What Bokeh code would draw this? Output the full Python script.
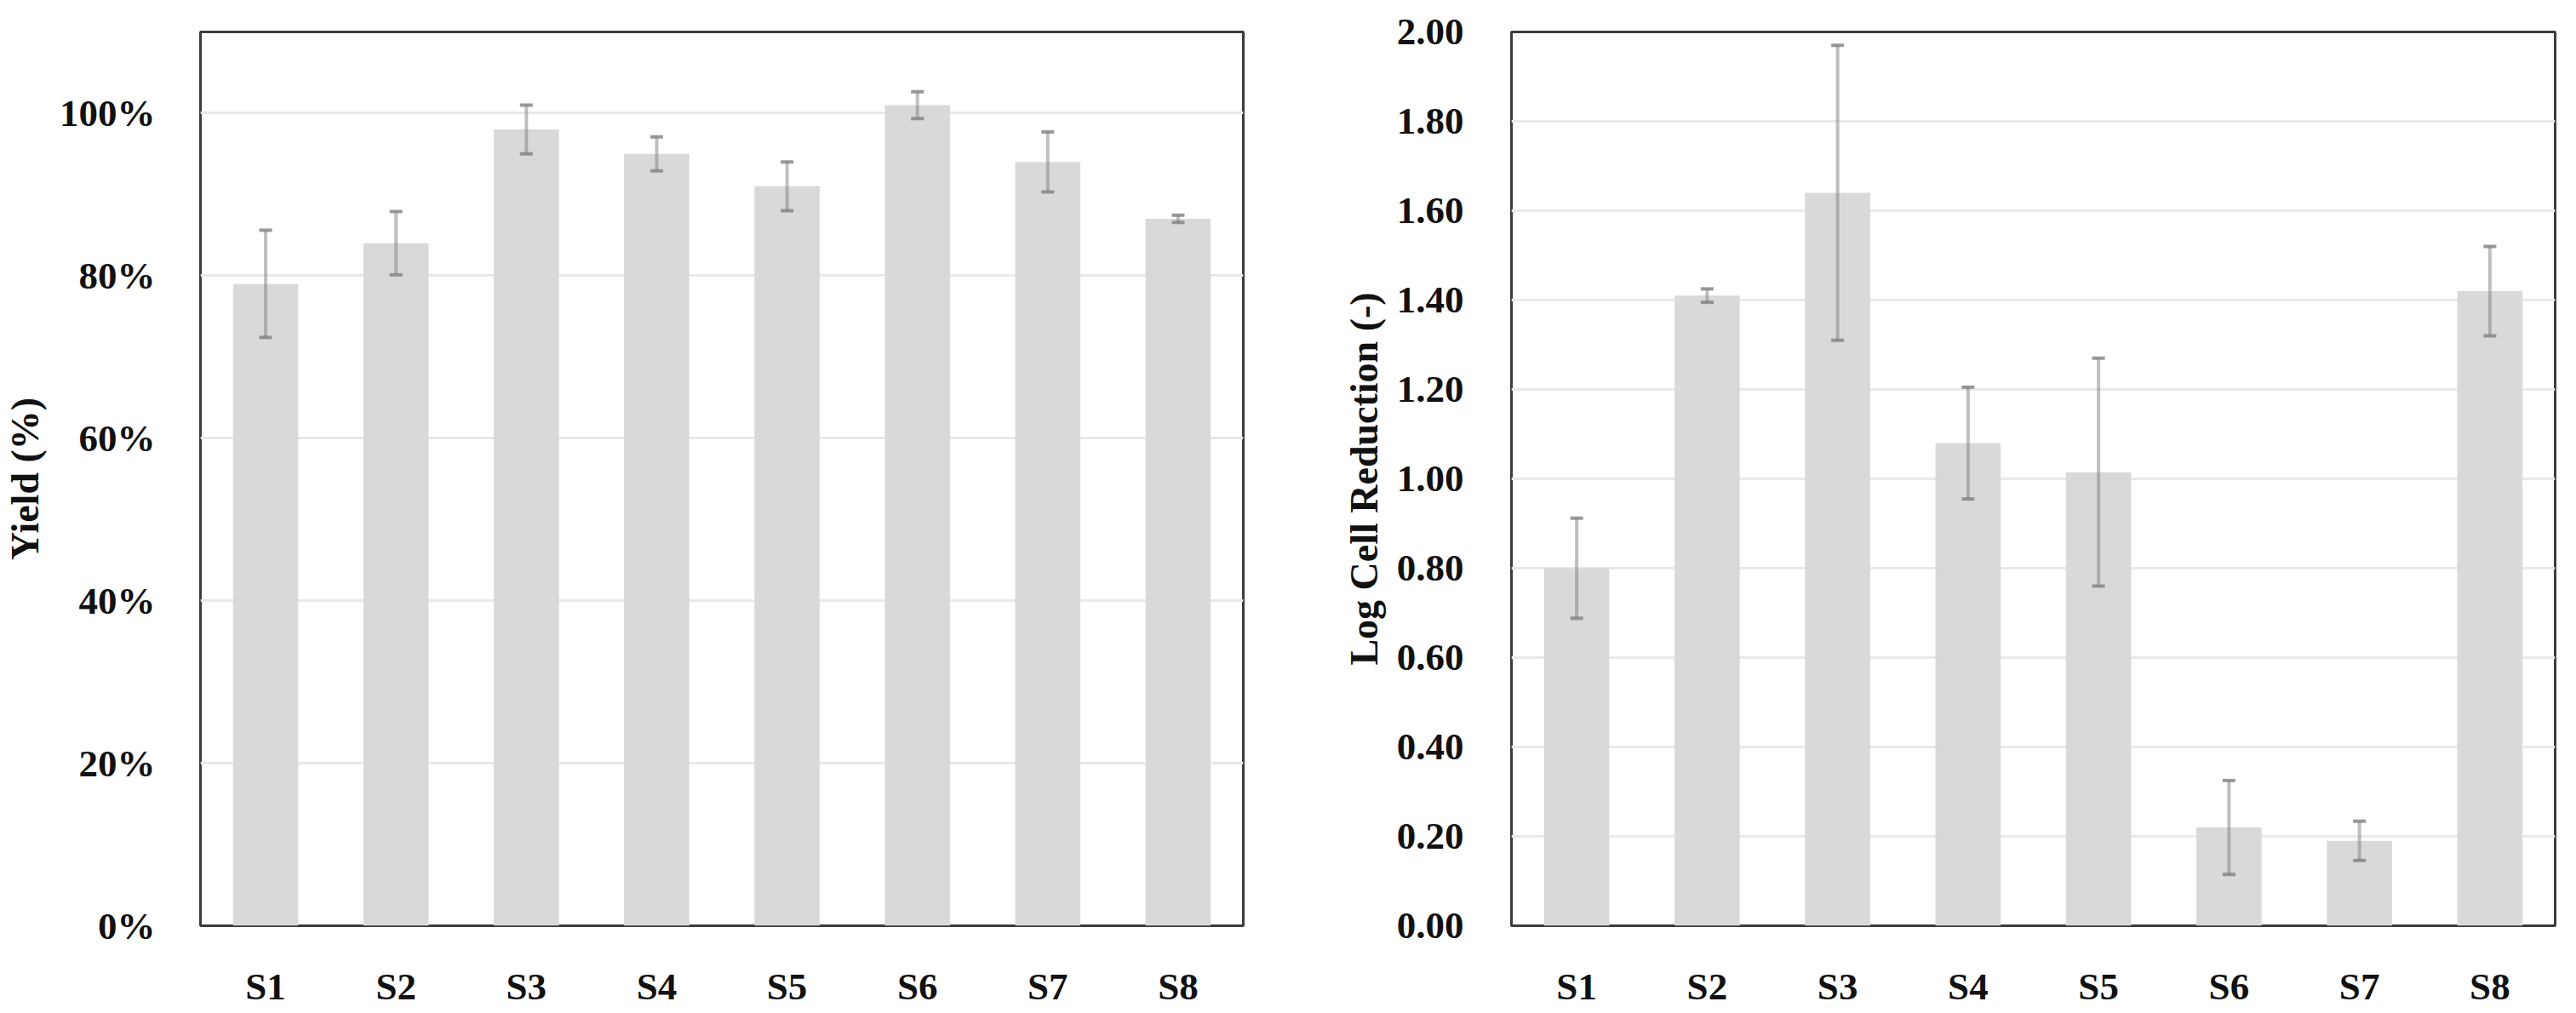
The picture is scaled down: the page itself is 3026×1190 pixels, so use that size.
from bokeh.plotting import figure
from bokeh.layouts import row
from bokeh.models import (ColumnDataSource, FactorRange, Range1d, FixedTicker,
                          PrintfTickFormatter, Whisker, TeeHead)
from bokeh.embed import file_html
from bokeh.resources import INLINE

# ---- data ----
samples = ["S1", "S2", "S3", "S4", "S5", "S6", "S7", "S8"]
yield_pct = [79.0, 84.0, 98.0, 95.0, 91.0, 101.0, 94.0, 87.0]
yield_err = [6.6, 3.9, 3.0, 2.1, 3.0, 1.65, 3.7, 0.45]
lcr = [0.80, 1.41, 1.64, 1.08, 1.015, 0.22, 0.19, 1.42]
lcr_err = [0.112, 0.015, 0.33, 0.125, 0.255, 0.105, 0.044, 0.10]
yield_ticks = [0, 20, 40, 60, 80, 100]
lcr_ticks = [0.0, 0.2, 0.4, 0.6, 0.8, 1.0, 1.2, 1.4, 1.6, 1.8, 2.0]

FONT = "Liberation Serif"
BAR = "#d9d9d9"


def make_panel(vals, errs, ymax, ticks, fmt, ylabel, border_left, border_right,
               tick_standoff, label_standoff, frame_w):
    src = ColumnDataSource(dict(
        x=samples, top=vals,
        upper=[v + e for v, e in zip(vals, errs)],
        lower=[v - e for v, e in zip(vals, errs)],
    ))
    p = figure(x_range=FactorRange(*samples), y_range=Range1d(0, ymax),
               frame_width=frame_w, frame_height=1050,
               min_border_left=border_left, min_border_right=border_right,
               min_border_top=37, min_border_bottom=95,
               output_backend="svg", toolbar_location=None)
    p.vbar(x="x", top="top", width=0.5, source=src, fill_color=BAR,
           line_color=None)
    w = Whisker(base="x", upper="upper", lower="lower", source=src,
                line_color="#7f7f7f", line_alpha=0.5, line_width=4,
                level="annotation",
                upper_head=TeeHead(size=15, line_color="#808080",
                                   line_alpha=0.8, line_width=4),
                lower_head=TeeHead(size=15, line_color="#808080",
                                   line_alpha=0.8, line_width=4))
    p.add_layout(w)

    p.outline_line_color = "#3c3c3c"
    p.outline_line_width = 3
    p.background_fill_color = "white"
    p.border_fill_color = "white"

    p.xgrid.grid_line_color = None
    p.ygrid.grid_line_color = "#e9e9e9"
    p.ygrid.grid_line_width = 3

    p.yaxis.ticker = FixedTicker(ticks=ticks)
    p.yaxis.formatter = PrintfTickFormatter(format=fmt)
    for ax in (p.xaxis[0], p.yaxis[0]):
        ax.axis_line_color = None
        ax.major_tick_line_color = None
        ax.minor_tick_line_color = None
        ax.major_label_text_font = FONT
        ax.major_label_text_font_style = "bold"
        ax.major_label_text_font_size = "45px"
        ax.major_label_text_color = "#111111"
    p.xaxis.major_label_standoff = 40
    p.yaxis.major_label_standoff = tick_standoff
    p.yaxis.axis_label = ylabel
    p.yaxis.axis_label_text_font = FONT
    p.yaxis.axis_label_text_font_style = "bold"
    p.yaxis.axis_label_text_font_size = "46px"
    p.yaxis.axis_label_text_color = "#111111"
    p.yaxis.axis_label_standoff = label_standoff
    return p


p1 = make_panel(yield_pct, yield_err, 110, yield_ticks, "%d%%", "Yield (%)",
                232, 51, 47, 12, 1225)
p2 = make_panel(lcr, lcr_err, 2.0, lcr_ticks, "%.2f", "Log Cell Reduction (-)",
                264, 12, 50, 10, 1226)

layout = row(p1, p2)
open("out.html", "w").write(file_html(layout, INLINE))
